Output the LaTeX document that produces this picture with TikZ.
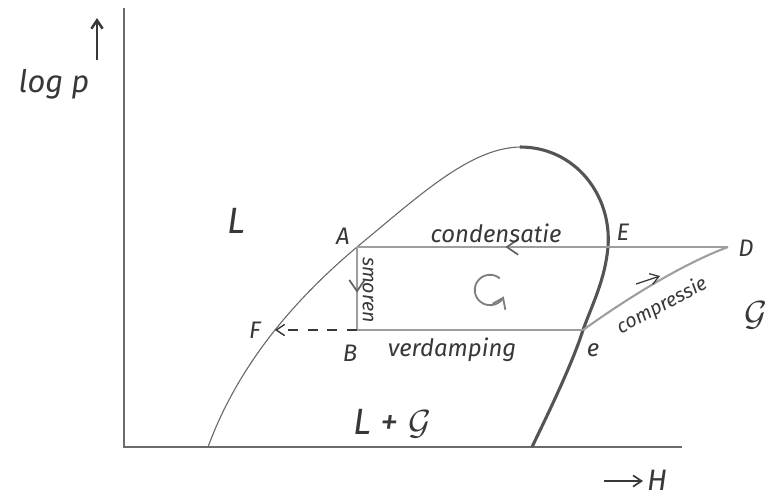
\documentclass[tikz,border=0pt]{standalone}
\usepackage{fontspec}
\setmainfont{Fira Sans}
\usetikzlibrary{arrows.meta,decorations.markings}
\definecolor{axisgray}{gray}{0.42}
\definecolor{domegray}{gray}{0.33}
\definecolor{procgray}{gray}{0.62}
\definecolor{inkgray}{gray}{0.22}
\begin{document}
\begin{tikzpicture}[x=0.025cm, y=-0.025cm,
  axis/.style={draw=axisgray, line width=1.4pt},
  proc/.style={draw=procgray, line width=1.5pt},
  tip/.style={-{Straight Barb[length=6pt,width=8pt]}},
  midtip/.style={postaction={decorate}, decoration={markings,
    mark=at position #1 with {\arrow[inkgray!80,line width=1.2pt]{Straight Barb[length=8pt,width=11pt]}}}},
  lbl/.style={text=inkgray, font=\fontsize{17}{20}\selectfont\itshape},
  bigl/.style={text=inkgray, font=\fontsize{26}{28}\selectfont\itshape}]
\useasboundingbox (0,0) rectangle (772,494);

% points of the cycle
\coordinate (O) at (124,447);
\coordinate (Ytop) at (124,8);
\coordinate (Xend) at (682,447);
\coordinate (A) at (357,247);
\coordinate (B) at (357,330);
\coordinate (E) at (608,247);
\coordinate (D) at (728,247);
\coordinate (e) at (583,330);
\coordinate (F) at (275,330);
\coordinate (top) at (520,147);

% axes
\draw[axis] (Ytop) -- (O) -- (Xend);
\draw[inkgray, line width=1.8pt, tip] (97,60) coordinate (pa) -- (97,18) coordinate (pb);
\node[lbl, font=\fontsize{22}{24}\selectfont\itshape] (logp) at (54,84) {log p};
\draw[inkgray, line width=1.2pt, tip] (604,481) coordinate (ha) -- (643,481) coordinate (hb);
\node[lbl, font=\fontsize{21}{24}\selectfont\itshape] (labH) at (657,480) {H};

% saturation dome
\draw[axisgray, line width=0.8pt] (208,447) .. controls (240,360) and (300,295) .. (A)
  .. controls (420,195) and (470,148) .. (top);
\draw[domegray, line width=2.2pt] (top) .. controls (575,147) and (612,195) .. (E)
  .. controls (605,280) and (592,305) .. (e) .. controls (572,365) and (545,420) .. (532,447);

% cycle
\draw[proc, midtip=0.6] (D) -- (A);
\draw[proc, midtip=0.55] (A) -- (B);
\draw[proc] (B) -- (e);
\draw[inkgray, line width=1pt, dash pattern=on 7pt off 7pt, tip] (B) -- (F);
\draw[proc] (e) .. controls (625,300) and (680,265) .. (D);
\draw[inkgray, line width=0.9pt, tip] (636,284) coordinate (ca) -- (660,276) coordinate (cb);
\draw[procgray!80!black, line width=1.3pt, -{Straight Barb[length=7pt,width=10pt]}]
  ([shift={(50:0.38cm)}]490,290) arc[start angle=50, end angle=335, radius=0.38cm];

% labels
\node[bigl] (labL) at (236,221) {L};
\node[lbl] (labA) at (343,236) {A};
\node[lbl] (labE) at (623,232) {E};
\node[lbl] (labD) at (746,248) {D};
\node[lbl] (labF) at (255,330) {F};
\node[lbl] (labB) at (350,353) {B};
\node[lbl] (labe) at (593,350) {e};
\node[lbl] (cond) at (496,233) {condensatie};
\node[lbl] (verd) at (452,350) {verdamping};
\node[lbl, font=\fontsize{14}{16}\selectfont\itshape, rotate=-90] (smo) at (368,290) {smoren};
\node[lbl, font=\fontsize{14}{16}\selectfont\itshape, rotate=28] (comp) at (662,306) {compressie};
\node[bigl] (labLG) at (392,424) {L + $\mathcal{G}$};
\node[bigl, font=\fontsize{38}{40}\selectfont] (labG) at (756,315) {$\mathcal{G}$};
\end{tikzpicture}
\end{document}
